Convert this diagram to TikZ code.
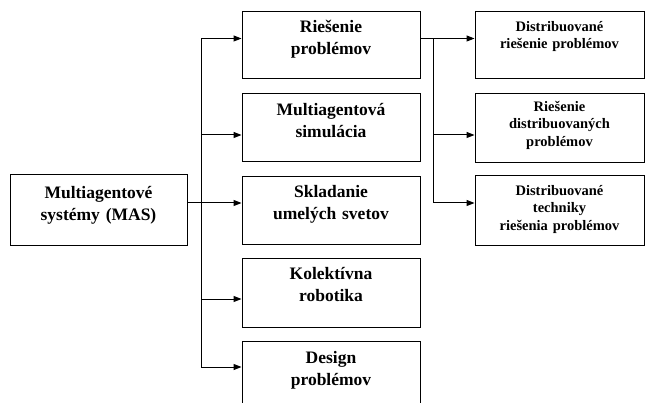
\documentclass[tikz,border=0pt]{standalone}
\usepackage{fontspec}
\setmainfont{Liberation Serif}
\usetikzlibrary{arrows.meta}
\tikzset{
  box/.style={draw=black, line width=1pt, inner sep=0pt, fill=none},
  midtxt/.style={font=\fontsize{17.5}{22}\selectfont\bfseries, align=center, text width=170pt, inner sep=0pt, anchor=base},
  smalltxt/.style={font=\fontsize{14.5}{17.5}\selectfont\bfseries, align=center, text width=165pt, inner sep=0pt, anchor=base},
  conn/.style={line width=1pt, draw=black},
  arr/.style={conn, -{Triangle[length=8pt,width=6pt]}},
}
\begin{document}
\begin{tikzpicture}[x=1pt,y=-1pt]
\path[use as bounding box, clip] (0,0) rectangle (655,403);
\fill[white] (0,0) rectangle (655,403);
% boxes
\node[box, minimum width=177pt, minimum height=70pt] (L) at (98.5,210) {};
\node[box, minimum width=178pt, minimum height=67pt] (M1) at (331,45.5) {};
\node[box, minimum width=178pt, minimum height=68pt] (M2) at (331,128) {};
\node[box, minimum width=178pt, minimum height=67pt] (M3) at (331,210.5) {};
\node[box, minimum width=178pt, minimum height=69pt] (M4) at (331,292.5) {};
\node[box, minimum width=178pt, minimum height=67pt] (M5) at (331,374.5) {};
\node[box, minimum width=169pt, minimum height=67pt] (R1) at (559.5,45.5) {};
\node[box, minimum width=169pt, minimum height=69pt] (R2) at (559.5,128.5) {};
\node[box, minimum width=169pt, minimum height=69pt] (R3) at (559.5,210.5) {};
% texts
\node[midtxt] (Lt) at ([yshift=-24pt]L.north) {Multiagentové\\systémy (MAS)};
\node[midtxt] (M1t) at ([yshift=-21pt]M1.north) {Riešenie\\problémov};
\node[midtxt] (M2t) at ([yshift=-22pt]M2.north) {Multiagentová\\simulácia};
\node[midtxt] (M3t) at ([yshift=-21pt]M3.north) {Skladanie\\umelých svetov};
\node[midtxt] (M4t) at ([yshift=-22pt]M4.north) {Kolektívna\\robotika};
\node[midtxt] (M5t) at ([yshift=-23pt]M5.north) {Design\\problémov};
\node[smalltxt] (R1t) at ([yshift=-20pt]R1.north) {Distribuované\\riešenie problémov};
\node[smalltxt] (R2t) at ([yshift=-18pt]R2.north) {Riešenie\\distribuovaných\\problémov};
\node[smalltxt] (R3t) at ([yshift=-20pt]R3.north) {Distribuované\\techniky\\riešenia problémov};
% connector junctions
\coordinate (t1) at (201,38.5);
\coordinate (t2) at (201,135);
\coordinate (t3) at (201,203);
\coordinate (t4) at (201,299);
\coordinate (t5) at (201,367);
\coordinate (s1) at (433,38.5);
\coordinate (s2) at (433,135);
\coordinate (s3) at (433,203);
% main trunk
\draw[conn] (t1) -- (t5);
\draw[arr] (t1) -- (t1 -| M1.west);
\draw[arr] (t2) -- (t2 -| M2.west);
\draw[arr] (L.east |- t3) -- (t3 -| M3.west);
\draw[arr] (t4) -- (t4 -| M4.west);
\draw[arr] (t5) -- (t5 -| M5.west);
% sub trunk
\draw[conn] (s1) -- (s3);
\draw[arr] (M1.east |- s1) -- (s1 -| R1.west);
\draw[arr] (s2) -- (s2 -| R2.west);
\draw[arr] (s3) -- (s3 -| R3.west);
\end{tikzpicture}
\end{document}
